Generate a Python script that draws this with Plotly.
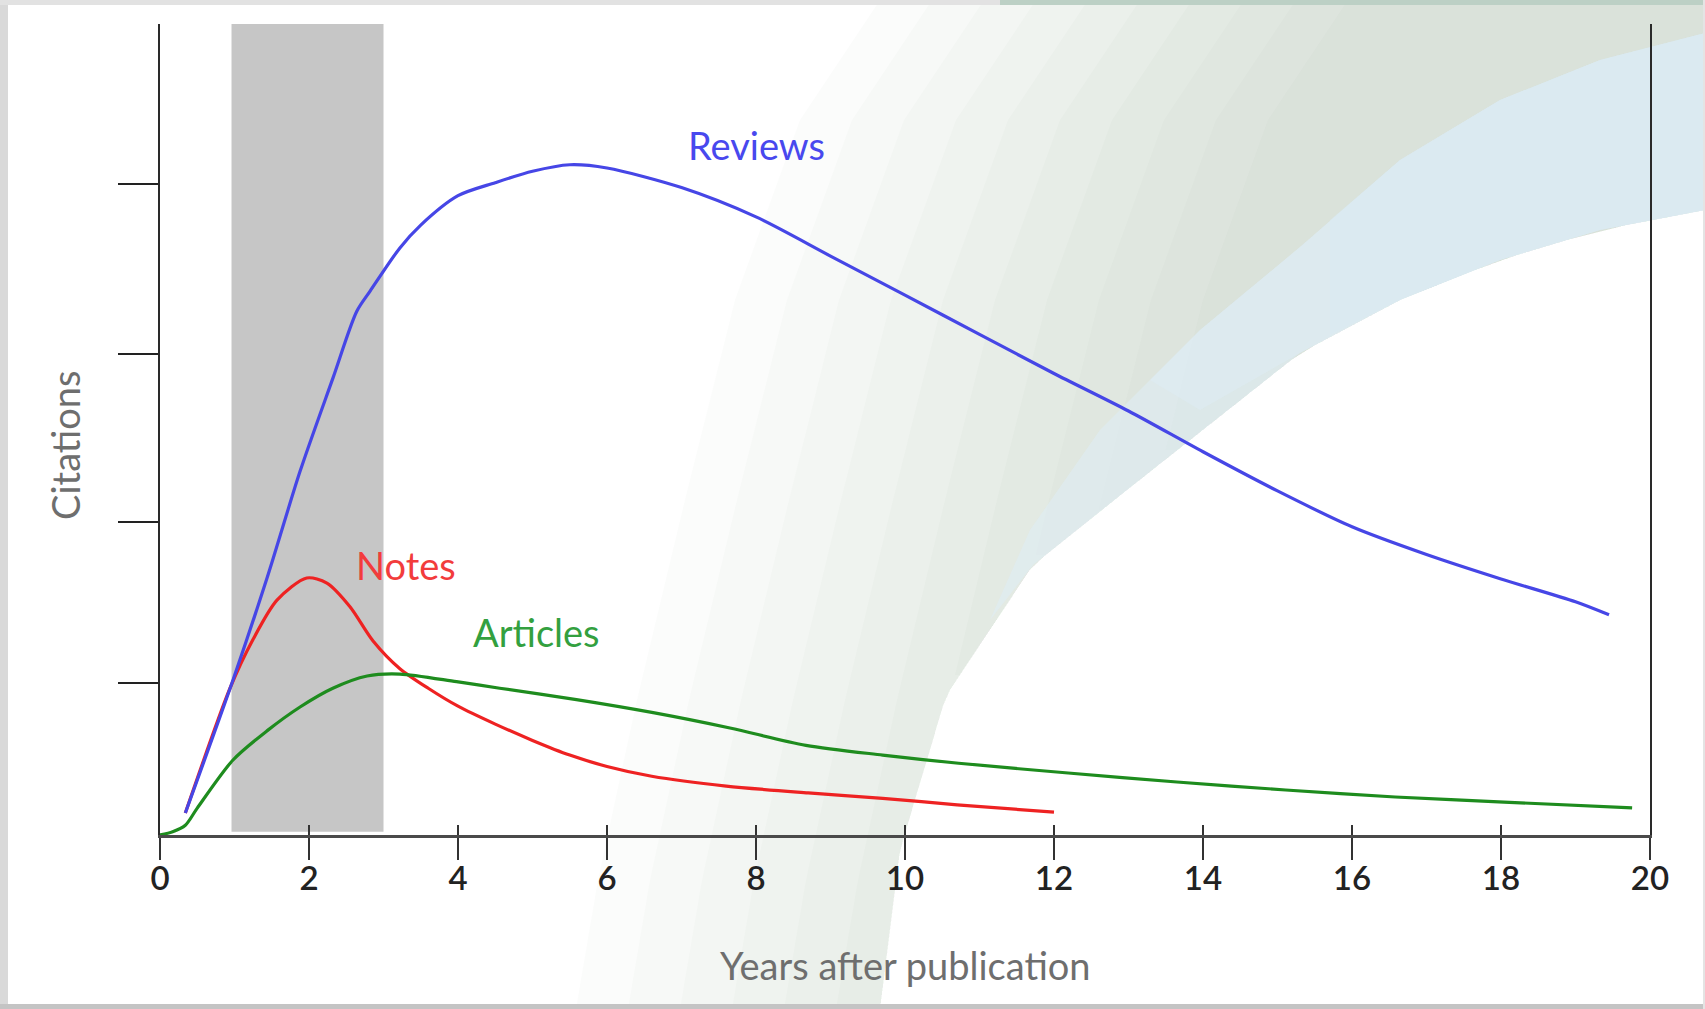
import plotly.graph_objects as go

# ---------------- data ----------------
x_ticks = [0, 2, 4, 6, 8, 10, 12, 14, 16, 18, 20]
x_tick_labels = ["0", "2", "4", "6", "8", "10", "12", "14", "16", "18", "20"]
y_ticks = [0.93, 1.92, 2.95, 3.99]

reviews_x = [0.34, 0.98, 1.44, 1.88, 2.32, 2.64, 2.82, 3.22, 3.5, 4.0, 4.5, 5.0, 5.5, 6.0,
             7.0, 8.0, 9.0, 10.0, 11.0, 12.0, 13.0, 14.0, 15.0, 16.0, 17.0, 18.0, 19.0, 19.45]
reviews_y = [0.135, 0.95, 1.58, 2.23, 2.80, 3.21, 3.335, 3.6, 3.74, 3.92, 4.0, 4.07, 4.11, 4.09,
             3.97, 3.79, 3.55, 3.31, 3.07, 2.83, 2.6, 2.35, 2.11, 1.89, 1.72, 1.57, 1.43, 1.35]

notes_x = [0.34, 0.94, 1.25, 1.57, 1.97, 2.24, 2.55, 2.86, 3.22, 3.6, 4.0, 4.5, 5.0, 5.5, 6.0,
           6.6, 7.6, 8.7, 9.7, 10.7, 12.0]
notes_y = [0.135, 0.90, 1.20, 1.44, 1.576, 1.545, 1.40, 1.19, 1.02, 0.90, 0.79, 0.68, 0.58, 0.49, 0.42,
           0.36, 0.30, 0.258, 0.225, 0.185, 0.14]

articles_x = [0, 0.17, 0.34, 0.5, 0.98, 1.44, 1.88, 2.32, 2.78, 3.22, 3.98, 4.56, 5.59, 6.62,
              7.65, 8.67, 9.7, 10.72, 12.19, 13.65, 15.11, 16.58, 18.04, 19.76]
articles_y = [0, 0.02, 0.06, 0.165, 0.46, 0.64, 0.785, 0.90, 0.975, 0.987, 0.94, 0.90, 0.83, 0.75,
              0.656, 0.55, 0.49, 0.44, 0.38, 0.325, 0.276, 0.233, 0.202, 0.166]

window_years = [0.96, 3.0]   # shaded citation window

label_text = ["Reviews", "Notes", "Articles"]
label_x = [8.0, 3.3, 5.06]
label_y = [4.23, 1.655, 1.245]

# ---------------- styling ----------------
W, H = 1705, 1009
BLUE, RED, GREEN = "#4646e6", "#ee2222", "#1e8c1e"
label_colors = ["#4848ee", "#f23c3c", "#33a03f"]
FONT = "Lato"


def px(x):
    return x / W


def py(y):
    return 1 - y / H


def path(points):
    return "M " + " L ".join(f"{px(x):.5f},{py(y):.5f}" for x, y in points) + " Z"


def interp(poly, y):
    """x of a polyline (sorted by y) at height y"""
    for (x0, y0), (x1, y1) in zip(poly[:-1], poly[1:]):
        if y0 <= y <= y1:
            t = 0 if y1 == y0 else (y - y0) / (y1 - y0)
            return x0 + t * (x1 - x0)
    return poly[-1][0] if y > poly[-1][1] else poly[0][0]


fig = go.Figure()

line_style = dict(width=3.2, shape="spline", smoothing=0.8)
fig.add_trace(go.Scatter(x=notes_x, y=notes_y, mode="lines", line=dict(color=RED, **line_style),
                         hoverinfo="skip", showlegend=False))
fig.add_trace(go.Scatter(x=reviews_x, y=reviews_y, mode="lines", line=dict(color=BLUE, **line_style),
                         hoverinfo="skip", showlegend=False))
fig.add_trace(go.Scatter(x=articles_x, y=articles_y, mode="lines", line=dict(color=GREEN, **line_style),
                         hoverinfo="skip", showlegend=False))
# invisible trace so the overlay axis (upper half of the x ticks) is drawn
fig.add_trace(go.Scatter(x=[x_ticks[0]], y=[0], xaxis="x2", mode="markers", marker=dict(opacity=0),
                         hoverinfo="skip", showlegend=False))

shapes = []
# ---- background decoration (soft swoosh, built from stacked translucent layers) ----
left_edge = [(880, 0), (800, 120), (735, 300), (685, 500), (637, 700), (598, 880), (576, 1009)]
white_edge = [(1705, 0), (1705, 210), (1600, 230), (1500, 260), (1400, 300), (1300, 353), (1142, 478),
              (1033, 565), (946, 696), (900, 850), (880, 1009)]
for i in range(10):
    shift = i * 52
    ys = list(range(0, 1010, 15)) + [1009]
    left_pts, last_y = [], None
    for y in ys:
        xl = interp(left_edge, y) + shift
        if xl < interp(white_edge, y) - 2:
            left_pts.append((xl, y))
            last_y = y
        else:
            break
    if not left_pts:
        continue
    right_pts = [(interp(white_edge, y), y) for y in reversed(ys) if y <= last_y]
    shapes.append(dict(type="path", xref="paper", yref="paper", path=path(left_pts + right_pts),
                       fillcolor="rgba(150,185,160,0.038)", line=dict(width=0), layer="below"))

blue_band = [(1705, 33), (1600, 60), (1500, 100), (1400, 160), (1300, 247), (1200, 330), (1100, 430),
             (1030, 530), (990, 620), (1033, 565), (1142, 478), (1300, 353), (1400, 300), (1500, 260),
             (1600, 230), (1705, 210)]
blue_mid = [(1705, 33), (1600, 60), (1500, 100), (1400, 160), (1300, 247), (1200, 330), (1150, 380),
            (1200, 410), (1300, 353), (1400, 300), (1500, 260), (1600, 230), (1705, 210)]
blue_right = [(1705, 33), (1600, 60), (1500, 100), (1400, 160), (1330, 220),
              (1330, 335), (1400, 300), (1500, 260), (1600, 230), (1705, 210)]
for pts, col in [(blue_band, "rgba(222,237,246,0.55)"), (blue_mid, "rgba(222,237,246,0.45)"),
                 (blue_right, "rgba(218,234,244,0.45)")]:
    shapes.append(dict(type="path", xref="paper", yref="paper", path=path(pts), fillcolor=col,
                       line=dict(width=0), layer="below"))

# ---- frame around the slide panel ----
for (x0, y0, x1, y1, col) in [(0, 0, 8, 1009, "#d9d9d9"), (0, 1004, 1705, 1009, "#c4c4c4"),
                              (0, 0, 1000, 5, "#e2e2e2"), (1000, 0, 1705, 5, "#bcd0c5"),
                              (1703, 0, 1705, 1009, "#e4e4e4")]:
    shapes.append(dict(type="rect", xref="paper", yref="paper", x0=px(x0), x1=px(x1), y0=py(y1), y1=py(y0),
                       fillcolor=col, line=dict(width=0), layer="below"))

# ---- shaded window ----
shapes.append(dict(type="rect", xref="x", yref="y", x0=window_years[0], x1=window_years[1], y0=0.02, y1=4.973,
                   fillcolor="#c6c6c6", line=dict(width=0), layer="below"))

annotations = []
for t, x, y, c in zip(label_text, label_x, label_y, label_colors):
    annotations.append(dict(x=x, y=y, xref="x", yref="y", text=t, showarrow=False,
                            font=dict(family=FONT, size=38, color=c), xanchor="center", yanchor="middle"))
annotations.append(dict(x=px(65), y=py(446), xref="paper", yref="paper", text="Citations", textangle=-90,
                        xanchor="center", yanchor="middle",
                        showarrow=False, font=dict(family=FONT, size=38, color="#6e6e6e")))
annotations.append(dict(x=px(905), y=py(965), xref="paper", yref="paper", text="Years after publication",
                        xanchor="center", yanchor="middle",
                        showarrow=False, font=dict(family=FONT, size=38, color="#6e6e6e")))

x_domain = [px(160), px(1650)]
y_domain = [py(835), py(24)]

fig.update_layout(
    width=W, height=H, margin=dict(l=0, r=0, t=0, b=0, pad=0, autoexpand=False),
    paper_bgcolor="white", plot_bgcolor="rgba(0,0,0,0)", showlegend=False,
    shapes=shapes, annotations=annotations,
    xaxis=dict(domain=x_domain, range=[0, 20], tickmode="array", tickvals=x_ticks, ticktext=x_tick_labels,
               ticks="outside", ticklen=22, tickwidth=2, tickcolor="#333333", automargin=False,
               ticklabelstandoff=-10,
               showline=True, linecolor="#4a4a4a", linewidth=3, showgrid=False, zeroline=False,
               tickfont=dict(family=FONT, size=33, color="#222222", weight=600), fixedrange=True),
    xaxis2=dict(overlaying="x", anchor="y", side="bottom", range=[0, 20], tickmode="array", tickvals=x_ticks,
                ticks="inside", ticklen=10, tickwidth=2, tickcolor="#333333", showticklabels=False,
                automargin=False, showline=False, showgrid=False, zeroline=False, fixedrange=True),
    yaxis=dict(domain=y_domain, range=[0, 4.973], tickmode="array", tickvals=y_ticks,
               ticktext=["" for _ in y_ticks], ticks="outside", ticklen=40, tickwidth=2, tickcolor="#222222",
               showline=True, linecolor="#2a2a2a", linewidth=2, mirror=True, showgrid=False, zeroline=False,
               automargin=False, fixedrange=True),
)

fig.write_html("out.html", config={"displayModeBar": False, "staticPlot": True},
               post_script="document.body.style.margin='0';document.body.style.overflow='hidden';")
